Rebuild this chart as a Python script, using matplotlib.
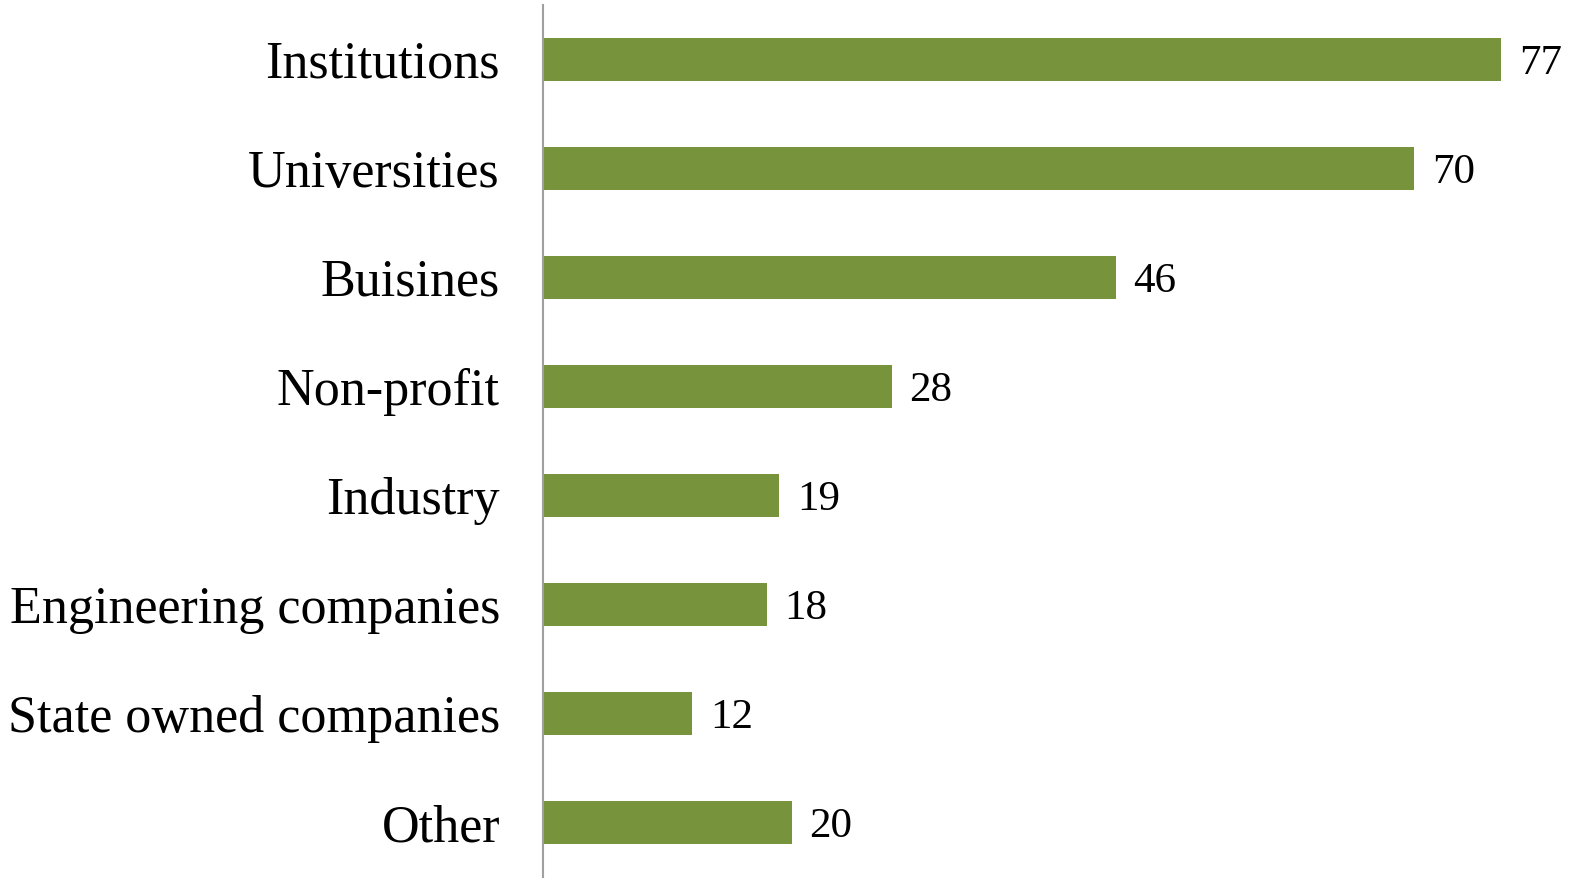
import matplotlib
matplotlib.use("Agg")
from matplotlib import pyplot as plt

categories = ["Institutions", "Universities", "Buisines", "Non-profit", "Industry",
              "Engineering companies", "State owned companies", "Other"]
counts = [77, 70, 46, 28, 19, 18, 12, 20]

bar_color = "#77933C"

plt.rcParams['font.family'] = ['Liberation Serif', 'DejaVu Serif']

fig = plt.figure(figsize=(15.96, 8.93), dpi=100)
ax = fig.add_axes([543 / 1596, 16 / 893, 1 - 543 / 1596, 872 / 893])

pos = list(range(len(categories)))
ax.barh(pos, counts, height=0.4, color=bar_color)
ax.set_ylim(len(categories) - 0.5, -0.5)
ax.set_xlim(0, 84.6)

for p, v in zip(pos, counts):
    ax.text(v + 1.4, p, str(v), va="center_baseline", ha="left", fontsize=31)

ax.set_yticks(pos)
ax.set_yticklabels(categories, fontsize=37.5)
ax.tick_params(axis="y", length=0, pad=31)
ax.set_xticks([])
for side in ["top", "right", "bottom"]:
    ax.spines[side].set_visible(False)
ax.spines["left"].set_color("#A0A0A0")
ax.spines["left"].set_linewidth(1.5)

fig.savefig("out.png", dpi=100)
